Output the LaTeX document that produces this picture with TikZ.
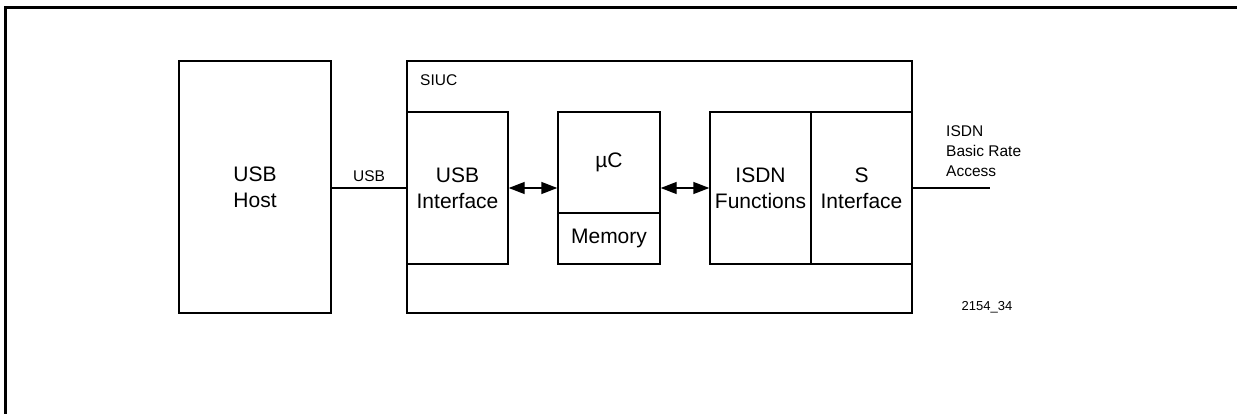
\documentclass[tikz,border=0pt]{standalone}
\usepackage{fontspec}
\setmainfont{Liberation Sans}
\usetikzlibrary{arrows.meta}
\begin{document}
\begin{tikzpicture}[x=1pt, y=-1pt,
    box/.style={rectangle, draw=black, line width=1.4pt, inner sep=0pt, align=center, font=\fontsize{21}{26}\selectfont},
    lbl/.style={inner sep=0pt, align=left, font=\fontsize{15.5}{20}\selectfont},
    dbl/.style={{Triangle[length=16pt,width=12pt]}-{Triangle[length=16pt,width=12pt]}, line width=1.4pt},
    wire/.style={line width=1.4pt},
    frame/.style={line width=3pt}
]
\useasboundingbox (0,0) rectangle (1237,414);
\draw[frame] (1237,7.5) -- (5,7.5) -- (5,414);
\node[box, minimum width=152pt, minimum height=252pt] (host) at (255,187) {USB\\Host};
\node[box, minimum width=505pt, minimum height=252pt] (siuc) at (659.5,187) {};
\node[lbl, anchor=west] (siuclbl) at (420,80) {SIUC};
\node[box, minimum width=101pt, minimum height=152pt] (usbif) at (457.5,188) {USB\\Interface};
\node[box, minimum width=102pt, minimum height=101pt] (uc) at (609,162.5) {µC};
\node[box, minimum width=102pt, minimum height=51pt] (mem) at (609,238.5) {Memory};
\node[box, minimum width=101pt, minimum height=152pt] (isdnf) at (760.5,188) {ISDN\\Functions};
\node[box, minimum width=101pt, minimum height=152pt] (sif) at (861.5,188) {S\\Interface};
\coordinate (isdnend) at (990,188);
\draw[wire] (host.east |- usbif) -- node[lbl, above=6pt] (usblbl) {USB} (usbif.west);
\draw[dbl] (usbif.east) -- (usbif.east -| uc.west);
\draw[dbl] (uc.east |- isdnf) -- (isdnf.west);
\draw[wire] (sif.east) -- (isdnend);
\node[lbl, anchor=south west] (isdnlbl) at (946,177) {ISDN\\Basic Rate\\Access};
\node[lbl, font=\fontsize{13}{16}\selectfont] (figno) at (987,307) {2154\_34};
\end{tikzpicture}
\end{document}
